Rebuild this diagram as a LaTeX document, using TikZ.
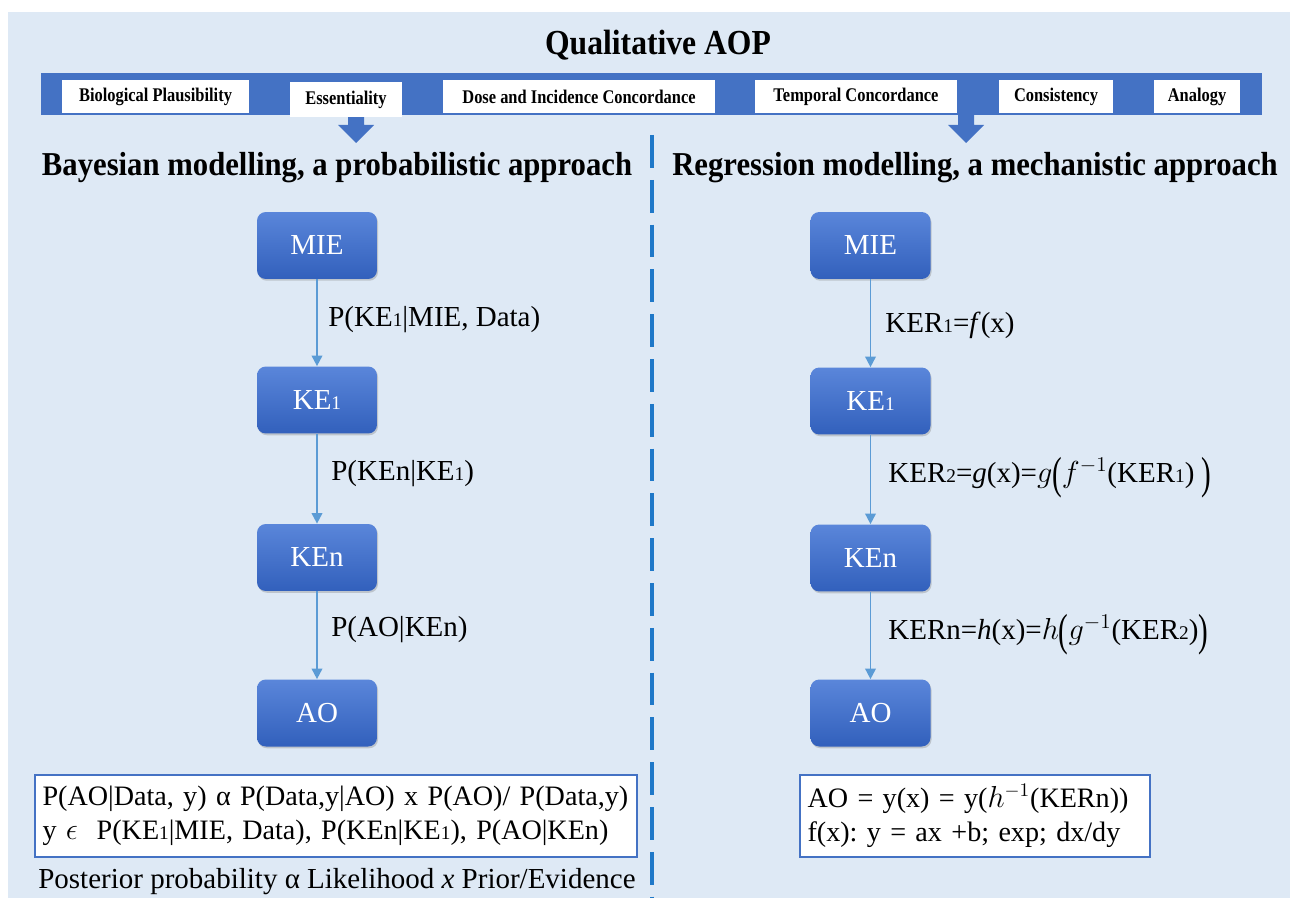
\documentclass[tikz,border=0pt]{standalone}
\usepackage{fontspec}
\setmainfont{Liberation Serif}
\usepackage{graphicx}
\usetikzlibrary{arrows.meta,shadows}
\definecolor{pagebg}{HTML}{DEE9F5}
\definecolor{bandblue}{HTML}{4472C4}
\definecolor{linkblue}{HTML}{5B9BD5}
\definecolor{dashblue}{HTML}{1F78C8}
\definecolor{boxtop}{HTML}{5A86DA}
\definecolor{boxbot}{HTML}{3260BC}
\newcommand{\ix}[1]{{\fontsize{11}{11}\selectfont #1}}
\newcommand{\narrow}[2]{\scalebox{#1}[1]{#2}}
\newcommand{\tallparen}[1]{\raisebox{-3.5pt}{\scalebox{1}[1.55]{#1}}}
\tikzset{
  event box/.style={
    rounded corners=5pt, top color=boxtop, bottom color=boxbot, draw=none,
    text=white, minimum width=2.4cm, minimum height=1.34cm,
    font=\fontsize{16.5}{16.5}\selectfont,
    drop shadow={opacity=0.35, shadow xshift=0.6pt, shadow yshift=-1pt}
  },
  crit box/.style={
    fill=white, inner sep=0pt, minimum height=0.66cm,
    font=\bfseries\fontsize{11}{11}\selectfont
  },
  link/.style={draw=linkblue, line width=1pt, -{Triangle[length=6pt,width=6pt]}},
  link label/.style={anchor=west, inner sep=0pt, font=\fontsize{16.5}{16.5}\selectfont},
  formula box/.style={
    draw=bandblue, line width=0.8pt, fill=white, align=left,
    inner xsep=0.15cm, minimum height=1.64cm,
    font=\fontsize{16}{19.5}\selectfont
  },
  heading/.style={font=\bfseries\fontsize{19}{19}\selectfont}
}

\begin{document}
\begin{tikzpicture}[x=0.02cm, y=-0.02cm]
\useasboundingbox (0,0) rectangle (1290,898);
\fill[white] (0,0) rectangle (1290,898);
\fill[pagebg] (8,12) rectangle (1290,898);

% title and criteria band
\node[font=\bfseries\fontsize{20}{20}\selectfont] (title) at (658,45) {\narrow{0.9}{Qualitative AOP}};
\fill[bandblue] (41,73) rectangle (1262,115);

% block arrows under the band
\begin{scope}[shift={(356,0)}]
  \fill[bandblue] (-8,113) -- (8,113) -- (8,125) -- (18,125) -- (0,143) -- (-18,125) -- (-8,125) -- cycle;
\end{scope}
\begin{scope}[shift={(966,0)}]
  \fill[bandblue] (-8,113) -- (8,113) -- (8,125) -- (18,125) -- (0,143) -- (-18,125) -- (-8,125) -- cycle;
\end{scope}

\node[crit box, minimum width=3.74cm] (bio)  at (155.5,96.5) {\narrow{0.85}{Biological Plausibility}};
\node[crit box, minimum width=2.24cm, minimum height=0.70cm] (ess) at (346,99.5) {\narrow{0.85}{Essentiality}};
\node[crit box, minimum width=5.44cm] (dose) at (579,96.5) {\narrow{0.85}{Dose and Incidence Concordance}};
\node[crit box, minimum width=4.04cm] (temp) at (856,96.5) {\narrow{0.85}{Temporal Concordance}};
\node[crit box, minimum width=2.28cm] (cons) at (1056,96.5) {\narrow{0.85}{Consistency}};
\node[crit box, minimum width=1.72cm] (anal) at (1197,96.5) {\narrow{0.85}{Analogy}};

% divider
\coordinate (dtop) at (652,135);
\coordinate (dbot) at (652,898);
\draw[dashblue, line width=2pt, dash pattern=on 18.7pt off 6.8pt] (dtop) -- (dbot);

% left: Bayesian chain
\node[heading] (lhead) at (337,168) {\narrow{0.92}{Bayesian modelling, a probabilistic approach}};
\node[event box] (lmie) at (317,245.5) {MIE};
\node[event box] (lke1) at (317,400)   {KE\ix{1}};
\node[event box] (lken) at (317,557.5) {KEn};
\node[event box] (lao)  at (317,713)   {AO};

\draw[link] (lmie) -- (lke1);
\draw[link] (lke1) -- (lken);
\draw[link] (lken) -- (lao);

\node[link label] (lp1) at (328,320) {P(KE\ix{1}|MIE, Data)};
\node[link label] (lp2) at (331,474) {P(KEn|KE\ix{1})};
\node[link label] (lp3) at (331,630) {P(AO|KEn)};

\node[formula box, text width=11.74cm] (lform) at (336,816)
  {\mbox{P(AO|Data, y) α\ P(Data,y|AO) x P(AO)/ P(Data,y)}\\
   y $\epsilon$\ \ P(KE\ix{1}|MIE, Data), P(KEn|KE\ix{1}),\ P(AO|KEn)};
\node[anchor=west, inner sep=0pt, font=\fontsize{16.5}{16.5}\selectfont] (lpost) at (38,882)
  {Posterior\ probability\ α Likelihood \textit{x} Prior/Evidence};

% right: regression chain
\node[heading] (rhead) at (975,168) {\narrow{0.92}{Regression modelling, a mechanistic approach}};
\node[event box] (rmie) at (870.5,245.5) {MIE};
\node[event box] (rke1) at (870.5,401)   {KE\ix{1}};
\node[event box] (rken) at (870.5,558)   {KEn};
\node[event box] (rao)  at (870.5,713)   {AO};

\draw[link] (rmie) -- (rke1);
\draw[link] (rke1) -- (rken);
\draw[link] (rken) -- (rao);

\node[link label] (rk1) at (885,325) {KER\ix{1}=\textit{f}(x)};
\node[link label] (rk2) at (888,478) {KER\ix{2}=\textit{g}(x)=$g$\tallparen{(}$f^{-1}$(KER\ix{1})\ \tallparen{)}};
\node[link label] (rk3) at (888,635) {KERn=\textit{h}(x)=$h$\tallparen{(}$g^{-1}$(KER\ix{2})\tallparen{)}};

\node[formula box, text width=6.7cm] (rform) at (975,816)
  {AO = y(x) = y($h^{-1}$(KERn))\\
   f(x):\ y = ax +b; exp;\ dx/dy};

\end{tikzpicture}
\end{document}
